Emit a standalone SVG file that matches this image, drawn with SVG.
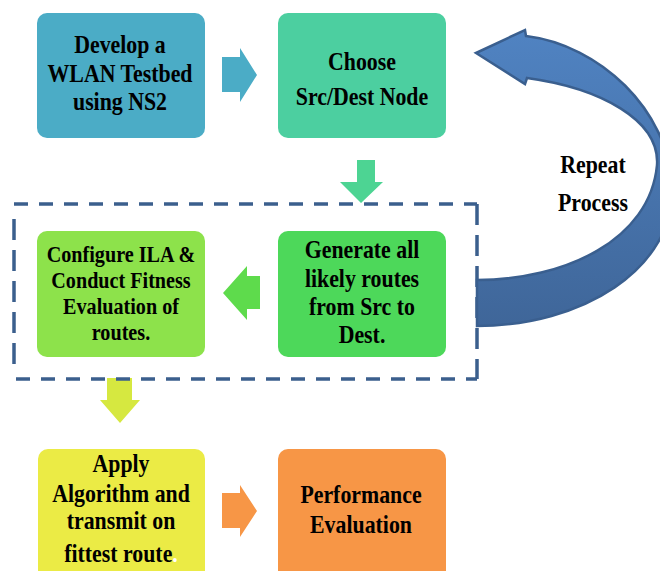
<svg xmlns="http://www.w3.org/2000/svg" width="660" height="571" viewBox="0 0 660 571">
<style>
  text { font-family: 'Liberation Serif', 'DejaVu Serif', 'Times New Roman', serif; font-weight: 700; font-size: 26px; fill: #000; text-anchor: middle; }
  .t24 { font-size: 24px; }
  .dash { stroke: #3b5f8d; stroke-width: 3.5; fill: none; }
</style>
<defs>
  <linearGradient id="blueGrad" x1="0" y1="0" x2="0" y2="1">
    <stop offset="0" stop-color="#5083c2"/>
    <stop offset="1" stop-color="#3f6699"/>
  </linearGradient>
</defs>
<rect width="660" height="571" fill="#fff"/>

<g id="connectors">
  <polygon points="222,57 240,57 240,48 257,75 240,102 240,92 222,92" fill="#4bacc6"/>
  <polygon points="357,160 375,160 375,182 383,182 361,203 340,182 357,182" fill="#4dd493"/>
  <polygon points="260,276 247,276 247,266 223,293 247,320 247,309 260,309" fill="#5edb4c"/>
  <polygon points="107,378 132,378 132,400 140,400 120,423 100,400 107,400" fill="#d6e840"/>
  <polygon points="222,493 240,493 240,485 257,511 240,537 240,528 222,528" fill="#f79646"/>
  <line class="dash" x1="14" y1="204" x2="477" y2="204" stroke-dasharray="14 11"/>
  <line class="dash" x1="16" y1="379" x2="477" y2="379" stroke-dasharray="14 11"/>
  <line class="dash" x1="14" y1="219" x2="14" y2="368" stroke-dasharray="21 10"/>
  <line class="dash" x1="477" y1="204" x2="477" y2="379" stroke-dasharray="21 10"/>
  <path d="M476,53 L525,30 L526,36 C600,45 668,110 672,185 C676,270 580,326 477,326 L477,280 C565,280 650,240 657,165 C660,120 600,88 527,78 L525,84 Z" fill="url(#blueGrad)" stroke="#3a5f8f" stroke-width="2.5"/>
  <g transform="translate(593 0) scale(0.84 1)" font-family="Liberation Serif, serif">
    <text x="0" y="173">Repeat</text>
    <text x="0" y="211">Process</text>
  </g>
</g>

<g id="node-develop">
  <rect x="37" y="13" width="168" height="125" rx="10" fill="#4bacc6"/>
  <g transform="translate(120 0) scale(0.84 1)">
    <text x="0" y="53">Develop a</text>
    <text x="0" y="82">WLAN Testbed</text>
    <text x="0" y="110">using NS2</text>
  </g>
</g>

<g id="node-choose">
  <rect x="278" y="13" width="168" height="125" rx="10" fill="#4ccfa0"/>
  <g transform="translate(362 0) scale(0.84 1)">
    <text x="0" y="70">Choose</text>
    <text x="0" y="105">Src/Dest Node</text>
  </g>
</g>

<g id="node-configure">
  <rect x="37" y="231" width="168" height="126" rx="10" fill="#8de24b"/>
  <g transform="translate(121 0) scale(0.84 1)">
    <text class="t24" x="0" y="262">Configure ILA &amp;</text>
    <text class="t24" x="0" y="288">Conduct Fitness</text>
    <text class="t24" x="0" y="314">Evaluation of</text>
    <text class="t24" x="0" y="340">routes.</text>
  </g>
</g>

<g id="node-generate">
  <rect x="278" y="231" width="168" height="126" rx="10" fill="#4dd85a"/>
  <g transform="translate(362 0) scale(0.84 1)">
    <text x="0" y="258">Generate all</text>
    <text x="0" y="287">likely routes</text>
    <text x="0" y="315">from Src to</text>
    <text x="0" y="343">Dest.</text>
  </g>
</g>

<g id="node-apply">
  <rect x="38" y="449" width="167" height="135" rx="10" fill="#ebeb45"/>
  <g transform="translate(121 0) scale(0.84 1)">
    <text x="0" y="472">Apply</text>
    <text x="0" y="502">Algorithm and</text>
    <text x="0" y="529">transmit on</text>
    <text x="0" y="562">fittest route<tspan fill="#fff">.</tspan></text>
  </g>
</g>

<g id="node-performance">
  <rect x="278" y="449" width="168" height="135" rx="10" fill="#f79646"/>
  <g transform="translate(361 0) scale(0.84 1)">
    <text x="0" y="503">Performance</text>
    <text x="0" y="533">Evaluation</text>
  </g>
</g>
</svg>
